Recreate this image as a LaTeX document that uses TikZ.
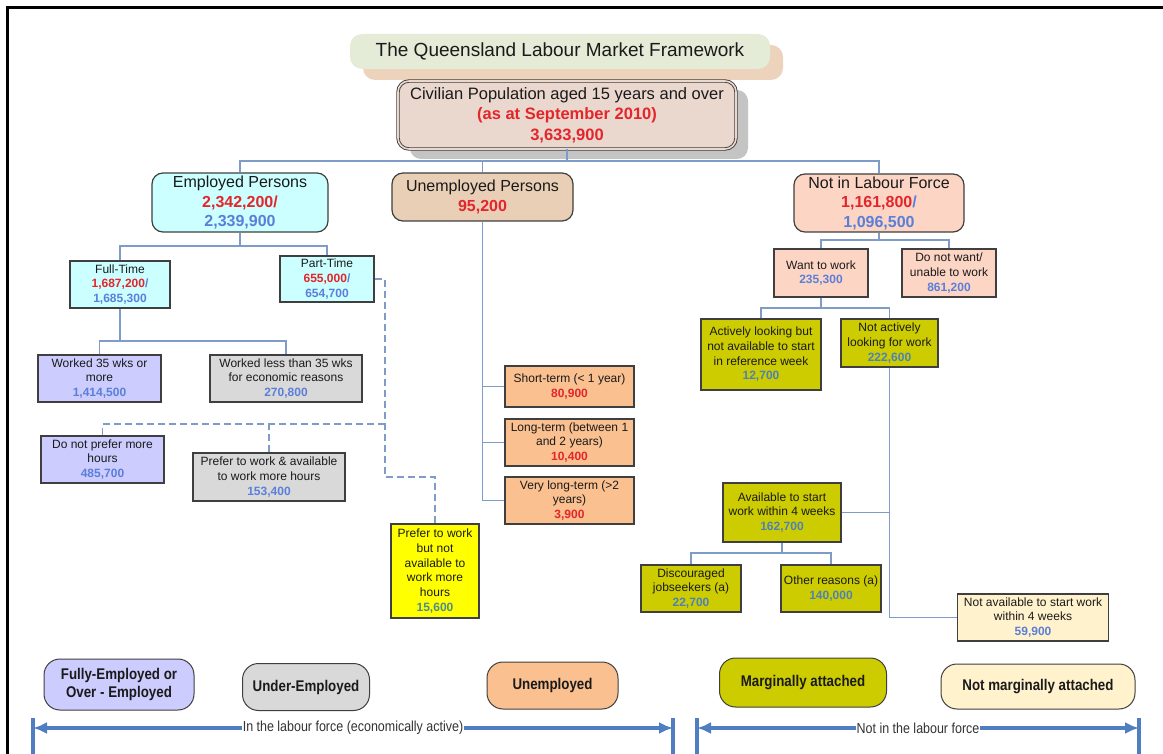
\documentclass[tikz,border=0pt]{standalone}
\usepackage{fontspec}
\setmainfont{Liberation Sans}
\newfontfamily\narrowf[FakeStretch=0.86]{Liberation Sans}
\usetikzlibrary{arrows.meta,calc}
\definecolor{conncol}{HTML}{7F9BC7}
\definecolor{boxline}{HTML}{3F3F3F}
\definecolor{txt}{HTML}{1A1A1A}
\definecolor{numred}{HTML}{E3262B}
\definecolor{numblue}{HTML}{5B7FD9}
\definecolor{numolive}{HTML}{4D82B8}
\definecolor{numteal}{HTML}{4E8C92}
\definecolor{cyanf}{HTML}{CCFFFF}
\definecolor{lavf}{HTML}{CCCCFF}
\definecolor{grayf}{HTML}{D9D9D9}
\definecolor{yelf}{HTML}{FFFF00}
\definecolor{tanf}{HTML}{E8CFB6}
\definecolor{peachf}{HTML}{FAC090}
\definecolor{pinkf}{HTML}{FCD5C4}
\definecolor{olivef}{HTML}{CCCC00}
\definecolor{creamf}{HTML}{FFF2CC}
\definecolor{civfill}{HTML}{EAD7CE}
\definecolor{civshadow}{HTML}{C4C4C4}
\definecolor{titlefill}{HTML}{E4EBD7}
\definecolor{titleshadow}{HTML}{EDD3BC}
\definecolor{arrowcol}{HTML}{4F7FC0}
\definecolor{labtxt}{HTML}{333333}
\newcommand\numR[1]{\textcolor{numred}{\bfseries #1}}
\newcommand\numB[1]{\textcolor{numblue}{\bfseries #1}}
\newcommand\numO[1]{\textcolor{numolive}{\bfseries #1}}
\newcommand\numT[1]{\textcolor{numteal}{\bfseries #1}}
\tikzset{
  conn/.style={draw=conncol, line width=1.5pt},
  dconn/.style={draw=conncol, line width=1.5pt, dash pattern=on 7pt off 4pt},
  sbox/.style={draw=boxline, line width=1.2pt, align=center, inner sep=0pt, text=txt,
    font=\fontsize{12}{14.7}\selectfont},
  bigbox/.style={draw=boxline, line width=1.2pt, rounded corners=11pt, align=center, inner sep=0pt,
    text=txt, font=\fontsize{16}{19.5}\selectfont},
  legbox/.style={draw=boxline, line width=1pt, rounded corners=16pt, align=center, inner sep=0pt,
    text=txt, font=\narrowf\bfseries\fontsize{15.5}{18}\selectfont},
  arr/.style={draw=arrowcol, line width=3.4pt, {Latex[length=14pt,width=12pt]}-{Latex[length=14pt,width=12pt]}},
  tickl/.style={draw=arrowcol, line width=3.4pt},
  lablab/.style={fill=white, inner sep=1pt, text=labtxt, font=\narrowf\fontsize{14.5}{18}\selectfont}
}
\begin{document}
\begin{tikzpicture}[x=1pt,y=-1pt]
\useasboundingbox (0,0) rectangle (1163,754);
\fill[white] (0,0) rectangle (1163,754);
\draw[black, line width=3pt] (7.5,754) -- (7.5,7.5) -- (1163,7.5);

% title
\fill[titleshadow, rounded corners=12pt] (363,45) rectangle (783,80);
\node[fill=titlefill, rounded corners=12pt, minimum width=420, minimum height=35, inner sep=0pt,
  text=txt, font=\fontsize{19}{22}\selectfont] (title) at (560,51.5) {The Queensland Labour Market Framework};

% civilian
\fill[civshadow, rounded corners=11pt] (410,90) rectangle (748,159);
\node[bigbox, fill=civfill, double=civfill, double distance=1.6pt, line width=0.9pt,
  minimum width=338, minimum height=68, font=\fontsize{16.5}{20.5}\selectfont] (civ) at (567,115)
  {Civilian Population aged 15 years and over\\\numR{(as at September 2010)}\\\numR{3,633,900}};

% level 1
\node[bigbox, fill=cyanf, minimum width=176, minimum height=59] (emp) at (240,202.5)
  {Employed Persons\\\numR{2,342,200/}\\\numB{2,339,900}};
\node[bigbox, fill=tanf, minimum width=181, minimum height=48] (unemp) at (482.5,197)
  {Unemployed Persons\\\numR{95,200}};
\node[bigbox, fill=pinkf, minimum width=170, minimum height=58] (nilf) at (879,203)
  {Not in Labour Force\\\numR{1,161,800}\numB{/}\\\numB{1,096,500}};

% employed branch
\node[sbox, fill=cyanf, minimum width=100, minimum height=47] (ft) at (120,284.5)
  {Full-Time\\\numR{1,687,200}\numB{/}\\\numB{1,685,300}};
\node[sbox, fill=cyanf, minimum width=94, minimum height=46] (pt) at (327,279)
  {Part-Time\\\numR{655,000}\numB{/}\\\numB{654,700}};
\node[sbox, fill=lavf, minimum width=123, minimum height=47] (w35) at (99.5,378.5)
  {Worked 35 wks or\\more\\\numB{1,414,500}};
\node[sbox, fill=grayf, minimum width=152, minimum height=47] (wless) at (286,378.5)
  {Worked less than 35 wks\\for economic reasons\\\numB{270,800}};
\node[sbox, fill=lavf, minimum width=123, minimum height=47] (dnp) at (102.5,459.5)
  {Do not prefer more\\hours\\\numB{485,700}};
\node[sbox, fill=grayf, minimum width=152, minimum height=48] (pwa) at (269,477)
  {Prefer to work \& available\\to work more hours\\\numB{153,400}};
\node[sbox, fill=yelf, minimum width=88, minimum height=94] (pwna) at (435,571)
  {Prefer to work\\but not\\available to\\work more\\hours\\\numT{15,600}};

% unemployed branch
\node[sbox, fill=peachf, minimum width=129, minimum height=41] (st) at (569.5,386.5)
  {Short-term (< 1 year)\\\numR{80,900}};
\node[sbox, fill=peachf, minimum width=129, minimum height=47] (lt) at (569.5,442.5)
  {Long-term (between 1\\and 2 years)\\\numR{10,400}};
\node[sbox, fill=peachf, minimum width=129, minimum height=47] (vlt) at (569.5,500.5)
  {Very long-term (>2\\years)\\\numR{3,900}};

% not in labour force branch
\node[sbox, fill=pinkf, minimum width=94, minimum height=48] (want) at (821,273)
  {Want to work\\\numB{235,300}};
\node[sbox, fill=pinkf, minimum width=94, minimum height=48] (dnw) at (949,273)
  {Do not want/\\unable to work\\\numB{861,200}};
\node[sbox, fill=olivef, minimum width=120, minimum height=71] (act) at (761,354.5)
  {Actively looking but\\not available to start\\in reference week\\\numO{12,700}};
\node[sbox, fill=olivef, minimum width=97, minimum height=48] (nact) at (889.5,343)
  {Not actively\\looking for work\\\numO{222,600}};
\node[sbox, fill=olivef, minimum width=118, minimum height=59] (avail) at (782,512.5)
  {Available to start\\work within 4 weeks\\\numO{162,700}};
\node[sbox, fill=olivef, minimum width=100, minimum height=47] (disc) at (691,588.5)
  {Discouraged\\jobseekers (a)\\\numO{22,700}};
\node[sbox, fill=olivef, minimum width=100, minimum height=47] (other) at (831,588.5)
  {Other reasons (a)\\\numO{140,000}};
\node[sbox, fill=creamf, minimum width=151, minimum height=47] (notav) at (1033,617.5)
  {Not available to start work\\within 4 weeks\\\numB{59,900}};

% connectors
\coordinate (bus) at (567,161);
\draw[conn] (civ.south) -- (bus);
\draw[conn] (emp.north) -- (emp.north |- bus) -- (nilf.north |- bus) -- (nilf.north);
\draw[conn] (unemp.north |- bus) -- (unemp.north);
\draw[conn] (unemp.south) -- (unemp.south |- vlt.west) -- (vlt.west);
\draw[conn] (unemp.south |- st.west) -- (st.west);
\draw[conn] (unemp.south |- lt.west) -- (lt.west);

\coordinate (ebus) at (240,246);
\draw[conn] (emp.south) -- (ebus);
\draw[conn] (ft.north) -- (ft.north |- ebus) -- (pt.north |- ebus) -- (pt.north);

\coordinate (fbus) at (120,341);
\draw[conn] (ft.south) -- (fbus);
\draw[conn] (w35.north) -- (w35.north |- fbus) -- (wless.north |- fbus) -- (wless.north);

\coordinate (nbus) at (879,240);
\draw[conn] (nilf.south) -- (nbus);
\draw[conn] (want.north) -- (want.north |- nbus) -- (dnw.north |- nbus) -- (dnw.north);

\coordinate (wbus) at (821,308);
\draw[conn] (want.south) -- (wbus);
\draw[conn] (act.north) -- (act.north |- wbus) -- (nact.north |- wbus) -- (nact.north);

\draw[conn] (nact.south) -- (nact.south |- notav.west) -- (notav.west);
\draw[conn] (avail.east) -- (avail.east -| nact.south);

\coordinate (abus) at (782,553);
\draw[conn] (avail.south) -- (abus);
\draw[conn] (disc.north) -- (disc.north |- abus) -- (other.north |- abus) -- (other.north);

% dashed part-time links
\coordinate (dtop) at (385,279);
\coordinate (dmid) at (385,424);
\coordinate (dbot) at (385,477);
\draw[dconn] (pt.east) -- (dtop) -- (dbot) -- (dbot -| pwna.north) -- (pwna.north);
\draw[dconn] (dmid) -- (dmid -| dnp.north) -- (dnp.north);
\draw[dconn] (pwa.north) -- (pwa.north |- dmid);

% legend
\node[legbox, fill=lavf, minimum width=150, minimum height=51] (l1) at (119,684.5)
  {Fully-Employed or\\Over - Employed};
\node[legbox, fill=grayf, minimum width=127, minimum height=47] (l2) at (306,687)
  {Under-Employed};
\node[legbox, fill=peachf, minimum width=131, minimum height=47] (l3) at (552.5,685.5)
  {Unemployed};
\node[legbox, fill=olivef, minimum width=167, minimum height=49] (l4) at (803,682.5)
  {Marginally attached};
\node[legbox, fill=creamf, minimum width=194, minimum height=45] (l5) at (1038,686.5)
  {Not marginally attached};

% bottom arrows
\coordinate (a1) at (33,728);
\coordinate (a2) at (673,728);
\coordinate (a3) at (697,728);
\coordinate (a4) at (1139,728);
\draw[arr] (a1) -- (a2);
\draw[arr] (a3) -- (a4);
\draw[tickl] ($(a1)+(0,-10)$) -- ($(a1)+(0,26)$);
\draw[tickl] ($(a2)+(0,-10)$) -- ($(a2)+(0,26)$);
\draw[tickl] ($(a3)+(0,-10)$) -- ($(a3)+(0,26)$);
\draw[tickl] ($(a4)+(0,-10)$) -- ($(a4)+(0,26)$);
\node[lablab] (lab1) at ($(a1)!0.5!(a2)$) {In the labour force (economically active)};
\node[lablab] (lab2) at ($(a3)!0.5!(a4)$) {Not in the labour force};
\end{tikzpicture}
\end{document}
